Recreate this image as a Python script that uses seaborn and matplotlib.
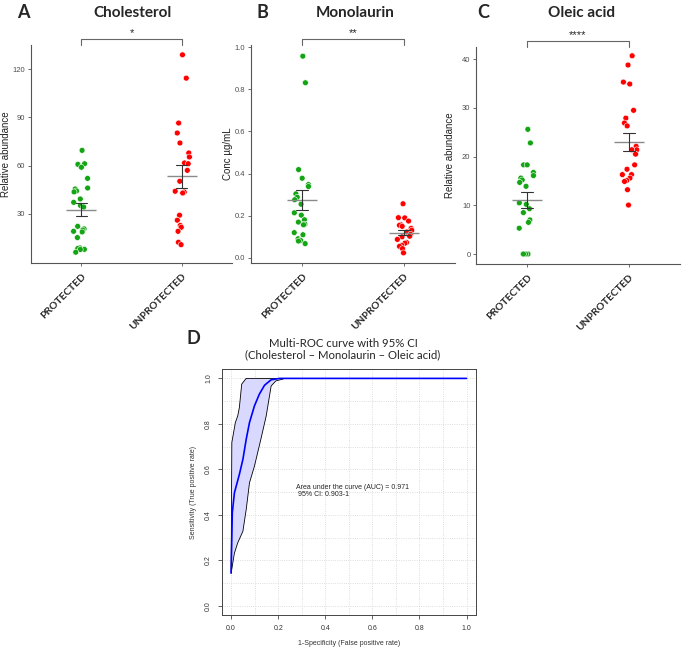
import numpy as np
import pandas as pd
import matplotlib
matplotlib.use("Agg")
import matplotlib.pyplot as plt
import seaborn as sns

# ── data ─────────────────────────────────────────
groups = ["PROTECTED", "UNPROTECTED"]

chol_prot = [69.5, 61.2, 60.8, 59.0, 52.1, 46.1, 45.5, 44.3, 43.7, 39.3, 37.2, 35.2,
             34.3, 22.3, 20.7, 20.0, 19.2, 18.8, 15.3, 8.9, 8.5, 8.0, 7.9, 6.2]
chol_unprot = [128.9, 114.4, 86.5, 80.3, 74.1, 67.9, 65.4, 61.7, 61.2, 57.1, 50.3,
               44.1, 43.6, 43.0, 29.2, 26.1, 22.8, 21.7, 19.2, 12.4, 10.9]

mono_prot = [0.957, 0.831, 0.419, 0.378, 0.348, 0.339, 0.304, 0.288, 0.276, 0.255, 0.214,
             0.203, 0.181, 0.170, 0.160, 0.157, 0.120, 0.110, 0.091, 0.083, 0.080, 0.068]
mono_unprot = [0.257, 0.191, 0.190, 0.175, 0.158, 0.155, 0.150, 0.140, 0.131, 0.123,
               0.112, 0.103, 0.100, 0.088, 0.073, 0.070, 0.060, 0.055, 0.044, 0.024]

oleic_prot = [25.6, 22.8, 18.3, 18.3, 16.75, 16.1, 15.6, 15.2, 14.7, 13.9, 10.5,
              10.2, 9.3, 8.5, 7.0, 6.5, 5.3, 0, 0, 0, 0]
oleic_unprot = [40.7, 38.8, 35.3, 34.9, 29.5, 27.9, 26.9, 26.3, 22.1, 21.4, 21.4,
                20.5, 18.3, 17.4, 16.3, 16.3, 15.6, 15.1, 14.9, 13.2, 10.05]

# ROC curve and 95% CI band
roc_fpr = [0.0, 0.005, 0.014, 0.035, 0.05, 0.064, 0.078, 0.099, 0.12, 0.142, 0.17, 0.206, 1.0]
roc_tpr = [0.144, 0.41, 0.497, 0.578, 0.644, 0.732, 0.806, 0.879, 0.931, 0.97, 0.994, 1.0, 1.0]
ci_hi_fpr = [0.0, 0.003, 0.018, 0.028, 0.035, 0.045, 0.064]
ci_hi_tpr = [0.144, 0.718, 0.806, 0.835, 0.872, 0.975, 1.0]
ci_lo_fpr = [0.0, 0.014, 0.028, 0.05, 0.064, 0.078, 0.099, 0.128, 0.149, 0.17, 0.19, 0.22, 0.225]
ci_lo_tpr = [0.144, 0.232, 0.277, 0.328, 0.423, 0.541, 0.614, 0.74, 0.835, 0.967, 0.989, 0.997, 1.0]

GREEN = "#14a514"
RED = "#ff0000"

sns.set_style("white")
plt.rcParams["font.family"] = ["Liberation Sans", "DejaVu Sans"]
TITLE_FONT = ["Lato", "DejaVu Sans"]

W, H = 685, 654
fig = plt.figure(figsize=(W / 100, H / 100), dpi=100)


def box(l, t, r, b):
    return [l / W, 1 - b / H, (r - l) / W, (b - t) / H]


def dot_panel(rect, prot, unprot, ylim, yticks, ylabel, label_x, fmt, title, letter, lx, tx, stars):
    ax = fig.add_axes(box(*rect))
    df = pd.DataFrame({
        "group": [groups[0]] * len(prot) + [groups[1]] * len(unprot),
        "value": list(prot) + list(unprot),
    })
    np.random.seed(3)
    sns.stripplot(data=df, x="group", y="value", hue="group", order=groups,
                  palette=[GREEN, RED], jitter=0.08, size=4.2, linewidth=0.4,
                  edgecolor="white", legend=False, ax=ax, zorder=2)
    sns.pointplot(data=df, x="group", y="value", order=groups, errorbar="se",
                  capsize=0.11, color="#8a8a8a", markers="_", markersize=21,
                  markeredgewidth=1.0, linestyle="none",
                  err_kws={"color": "#333333", "linewidth": 0.8}, ax=ax, zorder=5)
    ax.set_xlim(-0.5, 1.5)
    ax.set_ylim(*ylim)
    ax.set_yticks(yticks)
    ax.set_yticklabels([fmt.format(v) for v in yticks])
    ax.set_xlabel("")
    ax.set_ylabel(ylabel, fontsize=7, color="#222222")
    ax.yaxis.set_label_coords(label_x, 0.5)
    ax.set_xticks([0, 1])
    ax.set_xticklabels(groups, rotation=45, ha="right", rotation_mode="anchor",
                       fontsize=7.4, fontweight="bold", family=TITLE_FONT)
    ax.tick_params(axis="y", labelsize=5.5, labelcolor="#4d4d4d", length=2,
                   width=0.6, color="#555555", pad=2, left=True)
    ax.tick_params(axis="x", length=2, width=0.6, color="#555555", pad=4, bottom=True)
    for s in ["top", "right"]:
        ax.spines[s].set_visible(False)
    for s in ["left", "bottom"]:
        ax.spines[s].set_color("#555555")
        ax.spines[s].set_linewidth(0.8)
    # significance bracket
    tr = ax.get_xaxis_transform()
    ax.plot([0, 0, 1, 1], [1.0, 1.028, 1.028, 1.0], transform=tr, color="#666666",
            lw=0.8, clip_on=False)
    ax.text(0.5, 1.03, stars, transform=tr, ha="center", va="bottom", fontsize=8)
    fig.text(lx / W, 1 - 13 / H, letter, fontsize=13, fontweight="bold",
             family=TITLE_FONT, ha="left", va="center")
    fig.text(tx / W, 1 - 13 / H, title, fontsize=11, fontweight="bold",
             family=TITLE_FONT, ha="center", va="center")
    return ax


dot_panel((31, 45, 232, 263), chol_prot, chol_unprot, (-0.5, 135),
          [30, 60, 90, 120], "Relative abundance", -0.1, "{:.0f}", "Cholesterol", "A", 17, 133, "*")
dot_panel((251, 45, 455, 263), mono_prot, mono_unprot, (-0.024, 1.01),
          [0.0, 0.2, 0.4, 0.6, 0.8, 1.0], "Conc µg/mL", -0.088, "{:.1f}", "Monolaurin", "B", 256, 355, "**")
dot_panel((476, 47, 680, 264), oleic_prot, oleic_unprot, (-2.05, 42.5),
          [0, 10, 20, 30, 40], "Relative abundance", -0.103, "{:.0f}", "Oleic acid", "C", 477, 581, "****")

# ── D: multi-ROC curve ───────────────────────────
axd = fig.add_axes(box(221.7, 369.3, 476, 615))
axd.set_xlim(-0.04, 1.04)
axd.set_ylim(-0.04, 1.04)
grid = np.round(np.arange(0, 1.01, 0.1), 1)
for g in grid:
    axd.axhline(g, color="#d3d3d3", lw=0.6, ls=":", zorder=0)
    axd.axvline(g, color="#d3d3d3", lw=0.6, ls=":", zorder=0)
band_x = list(ci_hi_fpr) + list(ci_lo_fpr[::-1])
band_y = list(ci_hi_tpr) + list(ci_lo_tpr[::-1])
axd.fill(band_x, band_y, facecolor="#d9d9ff", edgecolor="black", lw=0.6, zorder=2)
sns.lineplot(x=roc_fpr, y=roc_tpr, sort=False, estimator=None, color="#0000ff",
             lw=1.2, ax=axd, zorder=3)
axd.text(0.277, 0.505, "Area under the curve (AUC) = 0.971\n 95% CI: 0.903-1",
         fontsize=5, va="center", ha="left", linespacing=1.1)
ticks = [0.0, 0.2, 0.4, 0.6, 0.8, 1.0]
axd.set_xticks(ticks)
axd.set_xticklabels([f"{t:.1f}" for t in ticks])
axd.set_yticks(ticks)
axd.set_yticklabels([f"{t:.1f}" for t in ticks], rotation=90, va="center")
axd.tick_params(labelsize=5, labelcolor="#333333", length=3, width=0.5,
                direction="out", bottom=True, left=True, pad=4)
for s in axd.spines.values():
    s.set_color("#444444")
    s.set_linewidth(0.7)
axd.set_xlabel("1-Specificity (False positive rate)", fontsize=5, color="#333333", labelpad=6)
axd.set_ylabel("Sensitivity (True positive rate)", fontsize=5, color="#333333", labelpad=6)

fig.text(343 / W, 1 - 349 / H, "Multi-ROC curve with 95% CI\n(Cholesterol – Monolaurin – Oleic acid)",
         ha="center", va="center", fontsize=8.2, family=TITLE_FONT, linespacing=1.05)
fig.text(187 / W, 1 - 339 / H, "D", fontsize=13, fontweight="bold", family=TITLE_FONT,
         ha="left", va="center")

fig.savefig("out.png", dpi=100)
